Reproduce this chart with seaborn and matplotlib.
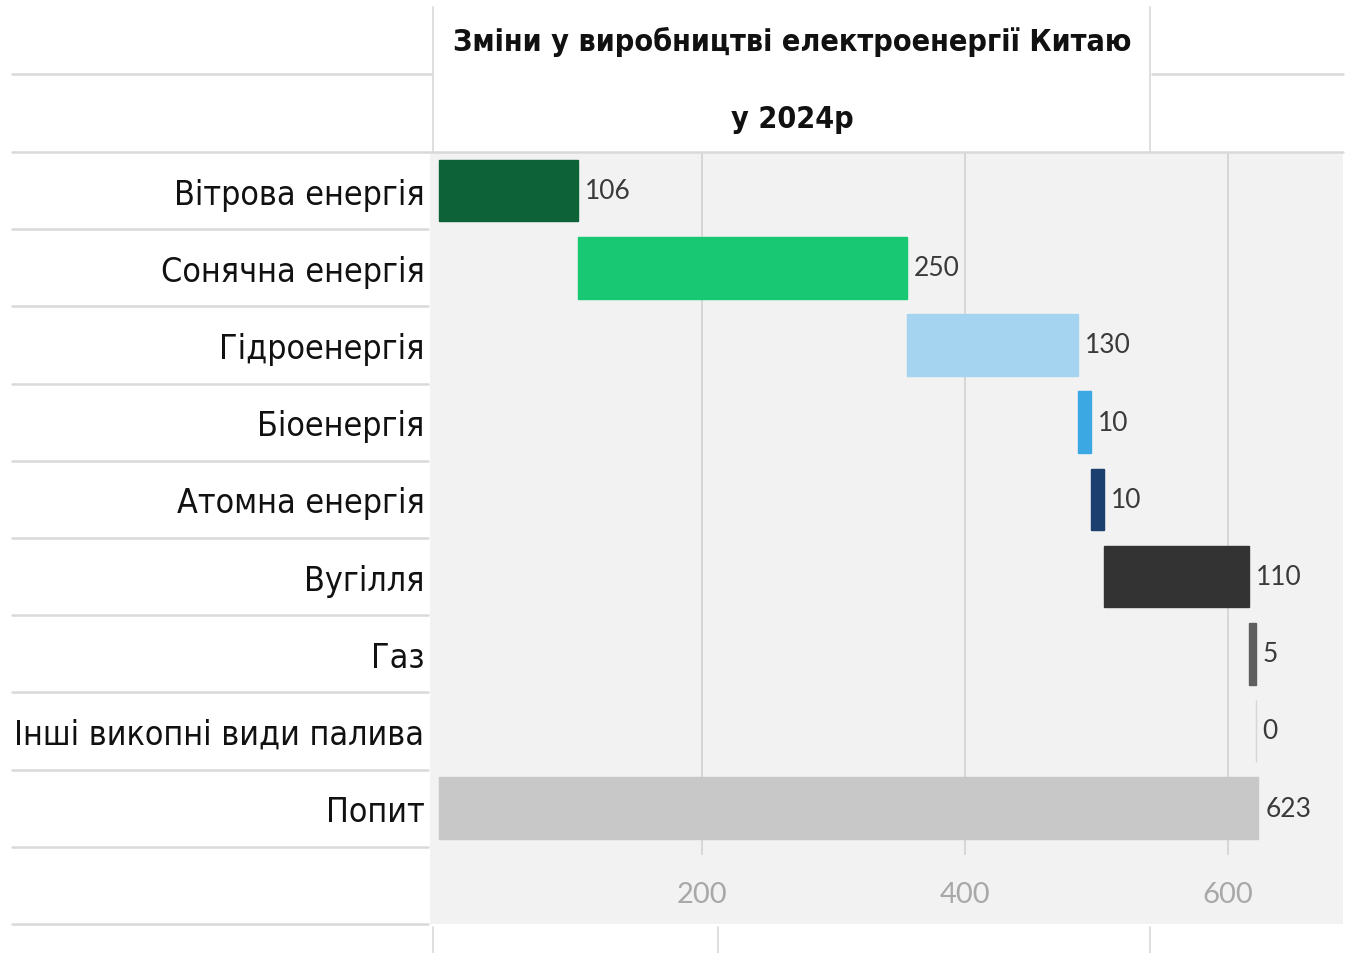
import numpy as np
import pandas as pd
import matplotlib
matplotlib.use("Agg")
import matplotlib.pyplot as plt
import matplotlib.font_manager as fm
from matplotlib.ft2font import FT2Font
from matplotlib.lines import Line2D
import seaborn as sns

categories = ["Вітрова енергія", "Сонячна енергія", "Гідроенергія", "Біоенергія",
              "Атомна енергія", "Вугілля", "Газ", "Інші викопні види палива", "Попит"]
values = [106, 250, 130, 10, 10, 110, 5, 0, 623]
is_total = [False, False, False, False, False, False, False, False, True]
bar_colors = ["#0e6237", "#19c872", "#a4d4ef", "#3ba7e3", "#1b3f6e",
              "#333333", "#5f5f5f", "#d6d6d6", "#c8c8c8"]
xticks = [200, 400, 600]
title_lines = ["Зміни у виробництві електроенергії Китаю", "у 2024р"]

# waterfall offsets: each step starts where the previous ended, totals start at 0
starts = []
running = 0
for v, tot in zip(values, is_total):
    if tot:
        starts.append(0)
    else:
        starts.append(running)
        running += v

df = pd.DataFrame({"category": categories, "value": values})

sns.set_style("white")


def has_cyrillic(path):
    try:
        cmap = FT2Font(path).get_charmap()
    except Exception:
        return False
    return all(ord(c) in cmap for c in "іїжЗК")


# the reference uses a condensed face; take one that covers Ukrainian letters
candidates = []
for f in fm.fontManager.ttflist:
    narrow = ("Narrow" in f.name or "Condensed" in f.name
              or str(f.stretch) in ("condensed", "semi-condensed", "extra-condensed"))
    if narrow and has_cyrillic(f.fname):
        candidates.append(f)
if candidates:
    c = sorted(candidates, key=lambda f: (f.weight not in (400, "normal", "regular"), f.name))[0]
    label_font = dict(family=[c.name, "DejaVu Sans"], stretch=c.stretch)
else:
    label_font = dict(family=["Roboto", "DejaVu Sans"])
digits = ["Lato", "DejaVu Sans"]
plt.rcParams["font.family"] = label_font["family"]

W, H = 1350, 954
fig = plt.figure(figsize=(W / 100, H / 100), dpi=100)
fig.patch.set_facecolor("white")
renderer = fig.canvas.get_renderer()


def fx(px):
    return px / W


def fy(py):
    return 1 - py / H


def fit_size(text, target_px, weight="normal"):
    t = fig.text(0, 0, text, fontsize=20, fontweight=weight, **label_font)
    w = t.get_window_extent(renderer).width
    t.remove()
    return 20 * target_px / w


label_size = min(fit_size(categories[7], 410), 30)
title_size = min(fit_size(title_lines[0], 680, "bold"), 30)

ax = fig.add_axes([fx(430), fy(925), fx(1343) - fx(430), fy(153) - fy(925)])
ax.set_facecolor("#f2f2f2")

sns.barplot(data=df, x="value", y="category", hue="category", palette=bar_colors,
            legend=False, saturation=1, width=0.8, orient="h", ax=ax, zorder=2)

for container, start, col, v in zip(ax.containers, starts, bar_colors, values):
    for bar in container:
        bar.set_x(start)
        bar.set_edgecolor(col)
        bar.set_linewidth(1)
    ax.bar_label(container, labels=[str(v)], padding=5, fontsize=19,
                 color="#3a3a3a", family=digits)

zero_px = 439
px_per_unit = 263 / 200
ax.set_xlim((430 - zero_px) / px_per_unit, (1343 - zero_px) / px_per_unit)
ax.set_ylim(len(categories) + 0.5, -0.5)

ax.vlines(xticks, -0.5, len(categories) - 0.4, color="#d2d2d2", lw=1.2, zorder=0)
ax.set_xticks(xticks)
ax.set_xticklabels([str(t) for t in xticks], family=digits, fontsize=21, color="#a8a8a8")
ax.tick_params(axis="x", length=0, pad=-31)
ax.tick_params(axis="y", length=0, pad=4)
for lbl in ax.get_yticklabels():
    lbl.set_fontproperties(fm.FontProperties(size=label_size, **label_font))
    lbl.set_color("#111111")
ax.set_xlabel("")
ax.set_ylabel("")
for s in ax.spines.values():
    s.set_visible(False)

# table-like separators around the chart
line_kw = dict(color="#d9d9d9", lw=1.8, transform=fig.transFigure)
row_h = (925 - 153) / 10
for k in range(11):
    y = 153 + k * row_h
    x1 = 1343 if k == 0 else 428
    fig.add_artist(Line2D([fx(12), fx(x1)], [fy(y), fy(y)], **line_kw))
fig.add_artist(Line2D([fx(12), fx(432)], [fy(75), fy(75)], **line_kw))
fig.add_artist(Line2D([fx(1152), fx(1343)], [fy(75), fy(75)], **line_kw))
vkw = dict(color="#d9d9d9", lw=1.2, transform=fig.transFigure)
for x in [433, 1150]:
    fig.add_artist(Line2D([fx(x), fx(x)], [fy(8), fy(153)], **vkw))
for x in [433, 718, 1150]:
    fig.add_artist(Line2D([fx(x), fx(x)], [fy(928), fy(954)], **vkw))

for txt, yc in zip(title_lines, [42, 119]):
    fig.text(fx(792), fy(yc), txt, ha="center", va="center", fontsize=title_size,
             fontweight="bold", color="#111111", **label_font)

fig.savefig("out.png", dpi=100, facecolor="white")
